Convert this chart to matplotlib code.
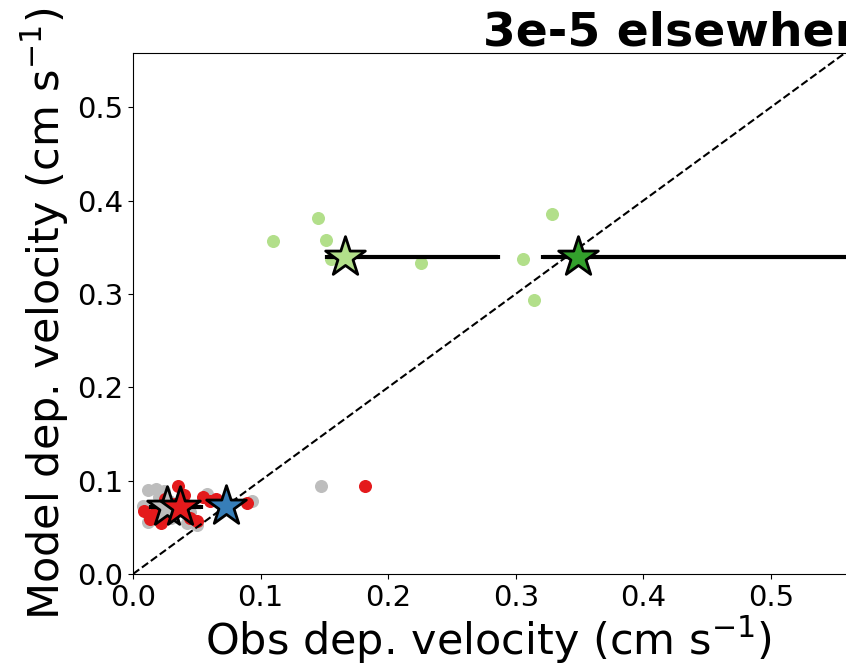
import matplotlib
matplotlib.use("Agg")
import matplotlib.pyplot as plt

# site-level points
grey_x = [0.008, 0.012, 0.018, 0.024, 0.012, 0.016, 0.028, 0.035, 0.042, 0.050, 0.058, 0.062, 0.070, 0.093, 0.045, 0.030, 0.020, 0.147]
grey_y = [0.073, 0.090, 0.091, 0.089, 0.056, 0.062, 0.078, 0.070, 0.055, 0.052, 0.086, 0.080, 0.075, 0.078, 0.066, 0.060, 0.082, 0.094]

red_x = [0.009, 0.013, 0.017, 0.035, 0.022, 0.028, 0.040, 0.045, 0.050, 0.055, 0.060, 0.065, 0.089, 0.032, 0.025, 0.182]
red_y = [0.068, 0.059, 0.065, 0.094, 0.055, 0.062, 0.085, 0.060, 0.057, 0.083, 0.078, 0.080, 0.076, 0.075, 0.080, 0.094]

lgreen_x = [0.110, 0.145, 0.151, 0.155, 0.226, 0.306, 0.328, 0.314]
lgreen_y = [0.357, 0.381, 0.358, 0.337, 0.333, 0.337, 0.386, 0.293]

# group means (stars) and x spread
star_x = [0.027, 0.037, 0.0725, 0.1664, 0.349]
star_y = [0.0717, 0.072, 0.0728, 0.340, 0.340]
star_col = ["#bdbdbd", "#e41a1c", "#377eb8", "#b2df8a", "#33a02c"]
err_lo = [0.013, 0.016, 0.0, 0.0144, 0.028]
err_hi = [0.012, 0.016, 0.0, 0.120, 0.290]

fig = plt.figure(figsize=(8.46, 6.70), dpi=100)
ax = fig.add_axes([133 / 846, 96 / 670, 0.6 * 1276 / 846, 521 / 670])

ax.scatter(grey_x, grey_y, s=70, color="#bdbdbd", zorder=2)
ax.scatter(red_x, red_y, s=70, color="#e41a1c", zorder=2)
ax.scatter(lgreen_x, lgreen_y, s=70, color="#b2df8a", zorder=2)

ax.plot([0, 1], [0, 1], "k--", lw=1.5, zorder=3)

for i in range(len(star_x)):
    if err_lo[i] > 0 or err_hi[i] > 0:
        ax.errorbar(star_x[i], star_y[i], xerr=[[err_lo[i]], [err_hi[i]]], fmt="none",
                    ecolor="k", elinewidth=3, capsize=1.5, capthick=3, zorder=4)
for i in range(len(star_x)):
    ax.scatter(star_x[i], star_y[i], marker="*", s=900, color=star_col[i],
               edgecolor="k", linewidth=2, zorder=5)

ax.set_xlim(0, 0.6)
ax.set_ylim(0, 0.558)
ax.set_xticks([0.0, 0.1, 0.2, 0.3, 0.4, 0.5])
ax.set_yticks([0.0, 0.1, 0.2, 0.3, 0.4, 0.5])
ax.tick_params(labelsize=21)
ax.set_xlabel("Obs dep. velocity (cm s$^{-1}$)", fontsize=31, labelpad=2)
ax.set_ylabel("Model dep. velocity (cm s$^{-1}$)", fontsize=31, labelpad=4)
ax.xaxis.label.set_x((488 - 133) / 765)

fig.text(483 / 846, (670 - 45) / 670, "3e-5 elsewhere", fontsize=34,
         fontweight="bold", ha="left", va="baseline")

fig.savefig("out.png", dpi=100)
